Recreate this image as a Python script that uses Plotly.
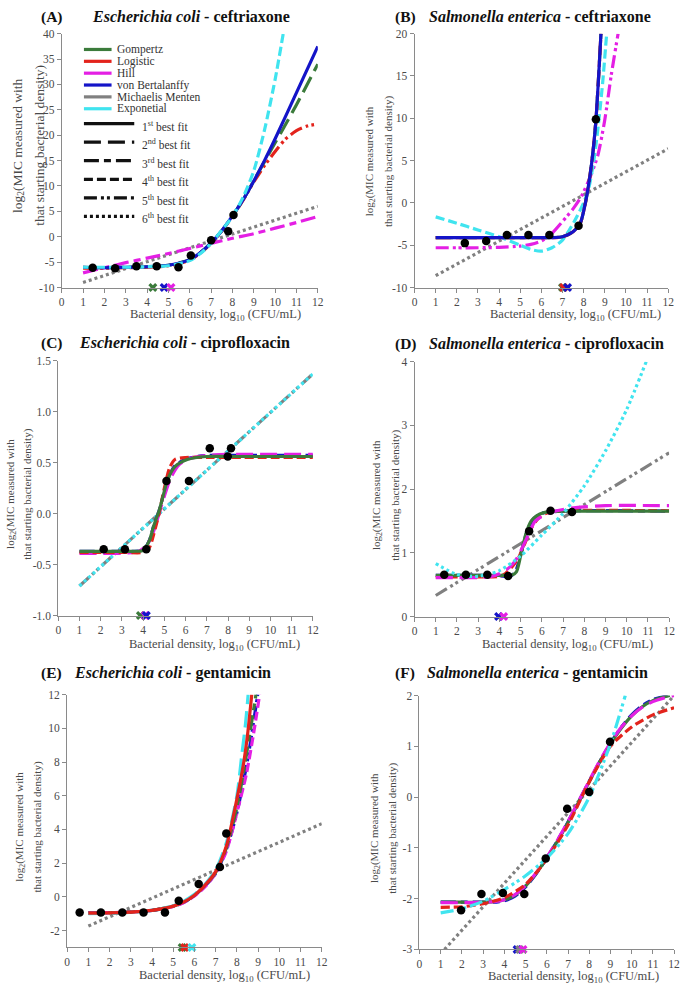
import plotly.graph_objects as go

W, H = 687, 991

MODELS = ["Gompertz", "Logistic", "Hill", "von Bertalanffy", "Michaelis Menten", "Exponetial"]
X_TICKS = list(range(13))

# ---------------- (A) E. coli - ceftriaxone ----------------
A_pts_x = [1.45, 2.5, 3.5, 4.45, 5.47, 6.05, 7.0, 7.8, 8.05]
A_pts_y = [-6.1, -6.2, -5.8, -5.8, -6.0, -3.7, -0.7, 1.1, 4.3]
A_vb_x = [1, 2, 3, 4, 5, 6, 6.5, 7, 7.5, 8, 8.5, 9, 9.5, 10, 11, 12]
A_vb_y = [-6.0, -6.1, -6.0, -5.9, -5.6, -4.5, -3.1, -1.2, 1.2, 4.1, 7.3, 11.0, 15.0, 19.3, 28.4, 37.5]
A_gom_x = [1, 2, 3, 4, 5, 6, 6.5, 7, 7.5, 8, 8.5, 9, 9.5, 10, 10.5, 11, 12]
A_gom_y = [-6.0, -6.1, -6.0, -5.9, -5.6, -4.5, -3.1, -1.2, 1.2, 4.1, 7.3, 11.0, 14.8, 18.5, 22.2, 26.0, 34.0]
A_log_x = [1, 2, 3, 4, 5, 6, 6.5, 7, 7.5, 8, 8.5, 9, 9.5, 10, 10.5, 11, 11.5, 12]
A_log_y = [-6.2, -6.2, -6.1, -6.0, -5.7, -4.6, -3.2, -1.3, 1.1, 4.0, 7.2, 10.8, 14.0, 16.8, 19.3, 20.9, 21.8, 22.2]
A_hill_x = [1, 2, 3, 4, 5, 6, 7, 8, 9, 10, 11, 12]
A_hill_y = [-7.1, -6.1, -5.1, -4.2, -3.3, -2.3, -1.3, -0.3, 0.6, 1.7, 2.8, 4.0]
A_mm_x = [1, 12]
A_mm_y = [-9.0, 6.0]
A_exp_x = [1, 2, 3, 4, 5, 6, 6.5, 7, 7.5, 8, 8.5, 9, 9.5, 10, 10.4]
A_exp_y = [-6.0, -6.0, -6.0, -5.9, -5.7, -4.7, -3.3, -1.3, 1.3, 4.0, 7.8, 13.0, 21.0, 31.0, 40.5]
A_rank = {"von Bertalanffy": 1, "Gompertz": 2, "Hill": 3, "Exponetial": 4, "Logistic": 5, "Michaelis Menten": 6}
A_thr_models = ["Gompertz", "von Bertalanffy", "Hill"]
A_thr_x = [4.27, 4.8, 5.12]
A_yticks = [-10, -5, 0, 5, 10, 15, 20, 25, 30, 35, 40]

# ---------------- (B) S. enterica - ceftriaxone ----------------
B_pts_x = [2.38, 3.39, 4.37, 5.39, 6.38, 7.76, 8.58]
B_pts_y = [-4.75, -4.5, -3.8, -3.8, -3.8, -2.7, 9.9]
B_vb_x = [1, 2, 3, 4, 5, 6, 6.5, 7, 7.5, 7.84, 8.1, 8.31, 8.45, 8.58, 8.7, 8.82]
B_vb_y = [-4.1, -4.1, -4.1, -4.1, -4.1, -4.1, -4.1, -4.0, -3.4, -2.4, 0.2, 3.4, 6.2, 9.7, 14.5, 20]
B_gom_x = [1, 2, 3, 4, 5, 6, 6.5, 7, 7.5, 7.84, 8.1, 8.31, 8.45, 8.58, 8.7, 8.82]
B_gom_y = [-4.1, -4.1, -4.1, -4.1, -4.1, -4.1, -4.1, -4.0, -3.4, -2.4, 0.2, 3.4, 6.2, 9.7, 14.5, 20]
B_log_x = [1, 2, 3, 4, 5, 6, 6.5, 7, 7.5, 7.84, 8.1, 8.31, 8.45, 8.58, 8.7, 8.82]
B_log_y = [-4.1, -4.1, -4.1, -4.1, -4.1, -4.1, -4.1, -4.0, -3.4, -2.4, 0.2, 3.4, 6.2, 9.7, 14.5, 20]
B_hill_x = [1, 2, 3, 4, 5, 5.5, 6, 6.5, 7, 7.5, 7.9, 8.3, 8.67, 9.0, 9.3, 9.63]
B_hill_y = [-5.3, -5.3, -5.3, -5.25, -5.1, -4.9, -4.5, -3.6, -2.2, -0.7, 0.8, 3.0, 5.6, 9.8, 15.0, 20]
B_mm_x = [1, 12]
B_mm_y = [-8.6, 6.4]
B_exp_x = [1, 2, 3, 4, 5, 5.5, 6, 6.5, 7, 7.6, 8.0, 8.23, 8.5, 8.7, 8.9, 9.09]
B_exp_y = [-1.65, -2.4, -3.2, -4.0, -5.0, -5.5, -5.7, -5.3, -4.4, -2.0, 0.0, 1.6, 5.3, 9.3, 14.2, 20]
B_rank = {"von Bertalanffy": 1, "Gompertz": 2, "Logistic": 3, "Exponetial": 4, "Hill": 5, "Michaelis Menten": 6}
B_thr_models = ["Gompertz", "Logistic", "von Bertalanffy"]
B_thr_x = [7.0, 7.05, 7.24]
B_yticks = [-10, -5, 0, 5, 10, 15, 20]

# ---------------- (C) E. coli - ciprofloxacin ----------------
C_pts_x = [2.14, 3.14, 4.15, 5.1, 6.16, 7.14, 7.99, 8.14]
C_pts_y = [-0.35, -0.35, -0.35, 0.32, 0.32, 0.64, 0.56, 0.64]
C_gom_x = [1, 2, 3, 3.5, 4, 4.3, 4.5, 4.77, 5.0, 5.15, 5.5, 6.08, 7, 8, 10, 12]
C_gom_y = [-0.37, -0.37, -0.37, -0.37, -0.36, -0.26, -0.12, 0.04, 0.22, 0.33, 0.46, 0.53, 0.56, 0.56, 0.56, 0.56]
C_vb_x = [1, 2, 3, 3.5, 4, 4.3, 4.5, 4.77, 5.0, 5.15, 5.5, 6.08, 7, 8, 10, 12]
C_vb_y = [-0.37, -0.37, -0.37, -0.37, -0.36, -0.26, -0.12, 0.04, 0.22, 0.33, 0.47, 0.54, 0.57, 0.57, 0.57, 0.57]
C_log_x = [1, 2, 3, 4, 4.3, 4.5, 4.75, 5.0, 5.25, 5.5, 6, 7, 12]
C_log_y = [-0.38, -0.38, -0.38, -0.38, -0.33, -0.2, 0.0, 0.25, 0.45, 0.53, 0.55, 0.55, 0.55]
C_hill_x = [1, 2, 3, 3.8, 4.2, 4.5, 4.75, 5.0, 5.3, 5.7, 6.2, 7, 8, 12]
C_hill_y = [-0.39, -0.39, -0.39, -0.37, -0.3, -0.17, 0.0, 0.17, 0.35, 0.48, 0.54, 0.57, 0.58, 0.58]
C_mm_x = [1, 12]
C_mm_y = [-0.71, 1.37]
C_exp_x = [1, 12]
C_exp_y = [-0.71, 1.37]
C_rank = {"Gompertz": 1, "Hill": 2, "von Bertalanffy": 3, "Logistic": 4, "Michaelis Menten": 5, "Exponetial": 6}
C_thr_models = ["Gompertz", "Hill", "von Bertalanffy"]
C_thr_x = [3.87, 4.1, 4.15]
C_yticks = [-1.0, -0.5, 0.0, 0.5, 1.0, 1.5]

# ---------------- (D) S. enterica - ciprofloxacin ----------------
D_pts_x = [1.4, 2.42, 3.43, 4.41, 5.4, 6.41, 7.42]
D_pts_y = [0.656, 0.656, 0.656, 0.636, 1.34, 1.66, 1.64]
D_gom_x = [1, 2, 3, 4, 4.6, 4.8, 5.0, 5.26, 5.5, 5.75, 6.1, 6.5, 7, 12]
D_gom_y = [0.645, 0.645, 0.645, 0.645, 0.65, 0.7, 0.95, 1.31, 1.5, 1.58, 1.63, 1.65, 1.655, 1.655]
D_vb_x = [1, 2, 3, 4, 4.4, 4.6, 4.8, 5.0, 5.3, 5.6, 6, 7, 12]
D_vb_y = [0.645, 0.645, 0.645, 0.64, 0.63, 0.65, 0.74, 0.97, 1.33, 1.53, 1.62, 1.655, 1.655]
D_log_x = [1, 2, 3, 4, 4.3, 4.6, 4.9, 5.2, 5.5, 5.8, 6.2, 6.8, 12]
D_log_y = [0.62, 0.62, 0.62, 0.63, 0.68, 0.78, 0.92, 1.15, 1.38, 1.53, 1.62, 1.655, 1.66]
D_hill_x = [1, 2, 3, 3.5, 4.0, 4.5, 4.8, 5.25, 5.7, 6.3, 7, 7.6, 9, 12]
D_hill_y = [0.61, 0.61, 0.61, 0.62, 0.67, 0.78, 0.9, 1.2, 1.5, 1.62, 1.68, 1.71, 1.74, 1.74]
D_mm_x = [1, 12]
D_mm_y = [0.33, 2.57]
D_exp_x = [1, 2, 3, 4, 5, 6, 7, 8, 9, 10, 10.92]
D_exp_y = [0.83, 0.66, 0.63, 0.72, 0.95, 1.28, 1.62, 2.05, 2.6, 3.25, 4.0]
D_rank = {"Gompertz": 1, "Hill": 2, "von Bertalanffy": 3, "Logistic": 4, "Michaelis Menten": 5, "Exponetial": 6}
D_thr_models = ["von Bertalanffy", "Hill"]
D_thr_x = [3.96, 4.2]
D_yticks = [0, 1, 2, 3, 4]

# ---------------- (E) E. coli - gentamicin ----------------
E_pts_x = [0.59, 1.59, 2.6, 3.6, 4.61, 5.26, 6.2, 7.2, 7.5]
E_pts_y = [-0.92, -0.92, -0.92, -0.92, -0.92, -0.23, 0.76, 1.77, 3.76]
E_log_x = [1, 2, 3, 4, 5, 5.5, 6, 6.5, 7, 7.5, 7.9, 8.3, 8.5, 8.7]
E_log_y = [-0.96, -0.95, -0.9, -0.8, -0.55, -0.3, 0.1, 0.7, 1.5, 3.0, 5.2, 7.8, 9.6, 12]
E_exp_x = [1, 2, 3, 4, 5, 5.5, 6, 6.5, 7, 7.5, 8, 8.22, 8.4, 8.53]
E_exp_y = [-1.0, -0.98, -0.92, -0.8, -0.52, -0.25, 0.15, 0.75, 1.6, 3.2, 6.0, 8.3, 10.2, 12]
E_gom_x = [1, 2, 3, 4, 5, 5.5, 6, 6.5, 7, 7.5, 8, 8.3, 8.6, 8.9]
E_gom_y = [-0.96, -0.95, -0.9, -0.8, -0.55, -0.3, 0.1, 0.68, 1.45, 2.9, 5.3, 7.3, 9.6, 12]
E_vb_x = [1, 2, 3, 4, 5, 5.5, 6, 6.5, 7, 7.5, 8, 8.5, 8.98]
E_vb_y = [-0.95, -0.94, -0.9, -0.8, -0.56, -0.32, 0.08, 0.65, 1.4, 2.8, 5.0, 8.1, 12]
E_hill_x = [1, 2, 3, 4, 5, 5.5, 6, 6.5, 7, 7.5, 8.06, 8.45, 8.84, 9.07]
E_hill_y = [-0.93, -0.93, -0.9, -0.8, -0.57, -0.33, 0.05, 0.6, 1.4, 2.7, 5.3, 7.3, 10.1, 12]
E_mm_x = [1, 12]
E_mm_y = [-1.73, 4.34]
E_rank = {"Logistic": 1, "Exponetial": 2, "Gompertz": 3, "Hill": 4, "von Bertalanffy": 5, "Michaelis Menten": 6}
E_thr_models = ["Gompertz", "Logistic", "Exponetial"]
E_thr_x = [5.42, 5.54, 5.88]
E_yticks = [-2, 0, 2, 4, 6, 8, 10, 12]

# ---------------- (F) S. enterica - gentamicin ----------------
F_pts_x = [1.96, 2.92, 3.93, 4.94, 5.95, 6.96, 8.0, 8.98]
F_pts_y = [-2.23, -1.91, -1.89, -1.91, -1.21, -0.23, 0.10, 1.09]
F_gom_x = [1, 2, 3, 3.5, 4, 4.5, 5, 5.5, 6, 6.5, 7, 7.5, 8, 8.5, 9, 9.5, 10, 10.5, 11, 11.5, 11.8]
F_gom_y = [-2.07, -2.07, -2.07, -2.06, -2.02, -1.93, -1.75, -1.5, -1.2, -0.87, -0.5, -0.1, 0.3, 0.7, 1.05, 1.35, 1.6, 1.78, 1.9, 1.97, 2.0]
F_hill_x = [1, 2, 3, 3.5, 4, 4.5, 5, 5.5, 6, 6.5, 7, 7.5, 8, 8.5, 9, 9.5, 10, 10.5, 11, 11.5, 12]
F_hill_y = [-2.08, -2.08, -2.07, -2.06, -2.02, -1.92, -1.74, -1.49, -1.19, -0.85, -0.48, -0.08, 0.32, 0.72, 1.07, 1.37, 1.6, 1.77, 1.88, 1.95, 2.0]
F_vb_x = [1, 2, 3, 3.5, 4, 4.5, 5, 5.5, 6, 6.5, 7, 7.5, 8, 8.5, 9, 9.5, 10, 10.5, 11, 11.7]
F_vb_y = [-2.07, -2.07, -2.07, -2.07, -2.04, -1.95, -1.77, -1.51, -1.2, -0.86, -0.49, -0.09, 0.31, 0.7, 1.06, 1.37, 1.62, 1.8, 1.92, 2.0]
F_log_x = [1, 2, 3, 4, 5, 6, 7, 8, 9, 10, 11, 12]
F_log_y = [-2.17, -2.16, -2.1, -1.98, -1.72, -1.22, -0.55, 0.3, 1.0, 1.38, 1.62, 1.76]
F_exp_x = [1, 2, 3, 4, 5, 6, 7, 8, 9, 9.7]
F_exp_y = [-2.28, -2.2, -2.05, -1.82, -1.55, -1.2, -0.72, 0.0, 1.05, 2.0]
F_mm_x = [1.18, 12]
F_mm_y = [-3.0, 2.0]
F_rank = {"Gompertz": 1, "Hill": 2, "von Bertalanffy": 3, "Logistic": 4, "Exponetial": 5, "Michaelis Menten": 6}
F_thr_models = ["von Bertalanffy", "Michaelis Menten", "Hill"]
F_thr_x = [4.6, 4.72, 4.88]
F_yticks = [-3, -2, -1, 0, 1, 2]


# styles
COLORS = {"Gompertz": "#3b7b3b", "Logistic": "#e3231c", "Hill": "#e41fe4",
          "von Bertalanffy": "#1414c8", "Michaelis Menten": "#808080", "Exponetial": "#40e4ef"}
DASH = {1: "solid", 2: "17px,7px", 3: "15px,5px,7px,5px", 4: "9px,4px",
        5: "13px,4px,3px,3px,3px,4px", 6: "3px,3px"}
SERIF = "Times New Roman, Liberation Serif, DejaVu Serif, serif"
AXIS_C = "#8a8a8a"
TICK_C = "#4a4a4a"


def px(x):
    return x / W


def py(y):
    return 1 - y / H


# panel layout in pixels: left, right, top, bottom of plot area
# yl = (x of 1st line, x of 2nd line, vertical centre, font size) for the y title
panels = [
    dict(key="A", box=(59.5, 319, 28, 285), yr=(-10, 40), yt=A_yticks, fmt="{:g}",
         tag="(A)", sp="Escherichia coli", drug="ceftriaxone", tag_x=36, sp_x=88, ty=11,
         yl=(15, 37, 141, 13.5), xtx=215, xty=313,
         pts=(A_pts_x, A_pts_y), rank=A_rank, thr=(A_thr_models, A_thr_x),
         curves=[("Michaelis Menten", A_mm_x, A_mm_y), ("Hill", A_hill_x, A_hill_y),
                 ("Logistic", A_log_x, A_log_y), ("Gompertz", A_gom_x, A_gom_y),
                 ("von Bertalanffy", A_vb_x, A_vb_y), ("Exponetial", A_exp_x, A_exp_y)]),
    dict(key="B", box=(417, 674, 28, 285), yr=(-10, 20), yt=B_yticks, fmt="{:g}",
         tag="(B)", sp="Salmonella enterica", drug="ceftriaxone", tag_x=395, sp_x=430, ty=11,
         yl=(372, 390, 157, 11), xtx=580, xty=313,
         pts=(B_pts_x, B_pts_y), rank=B_rank, thr=(B_thr_models, B_thr_x),
         curves=[("Michaelis Menten", B_mm_x, B_mm_y), ("Hill", B_hill_x, B_hill_y),
                 ("Exponetial", B_exp_x, B_exp_y), ("Gompertz", B_gom_x, B_gom_y),
                 ("Logistic", B_log_x, B_log_y), ("von Bertalanffy", B_vb_x, B_vb_y)]),
    dict(key="C", box=(56, 314, 359, 617), yr=(-1, 1.5), yt=C_yticks, fmt="{:.1f}",
         tag="(C)", sp="Escherichia coli", drug="ciprofloxacin", tag_x=36, sp_x=75, ty=341,
         yl=(8, 24, 494, 11), xtx=214, xty=647,
         pts=(C_pts_x, C_pts_y), rank=C_rank, thr=(C_thr_models, C_thr_x),
         curves=[("Michaelis Menten", C_mm_x, C_mm_y), ("Exponetial", C_exp_x, C_exp_y),
                 ("von Bertalanffy", C_vb_x, C_vb_y), ("Hill", C_hill_x, C_hill_y),
                 ("Logistic", C_log_x, C_log_y), ("Gompertz", C_gom_x, C_gom_y)]),
    dict(key="D", box=(417, 675, 360, 618), yr=(0, 4), yt=D_yticks, fmt="{:g}",
         tag="(D)", sp="Salmonella enterica", drug="ciprofloxacin", tag_x=395, sp_x=430, ty=342,
         yl=(379, 397, 495, 11), xtx=572, xty=647,
         pts=(D_pts_x, D_pts_y), rank=D_rank, thr=(D_thr_models, D_thr_x),
         curves=[("Michaelis Menten", D_mm_x, D_mm_y), ("von Bertalanffy", D_vb_x, D_vb_y),
                 ("Logistic", D_log_x, D_log_y), ("Gompertz", D_gom_x, D_gom_y),
                 ("Hill", D_hill_x, D_hill_y), ("Exponetial", D_exp_x, D_exp_y)]),
    dict(key="E", box=(65, 323, 697, 953), yr=(-3, 12), yt=E_yticks, fmt="{:g}",
         tag="(E)", sp="Escherichia coli", drug="gentamicin", tag_x=36, sp_x=70, ty=675,
         yl=(17, 35, 831, 11), xtx=224, xty=982,
         pts=(E_pts_x, E_pts_y), rank=E_rank, thr=(E_thr_models, E_thr_x),
         curves=[("Michaelis Menten", E_mm_x, E_mm_y), ("von Bertalanffy", E_vb_x, E_vb_y),
                 ("Hill", E_hill_x, E_hill_y), ("Gompertz", E_gom_x, E_gom_y),
                 ("Exponetial", E_exp_x, E_exp_y), ("Logistic", E_log_x, E_log_y)]),
    dict(key="F", box=(422, 680, 698, 955), yr=(-3, 2), yt=F_yticks, fmt="{:g}",
         tag="(F)", sp="Salmonella enterica", drug="gentamicin", tag_x=395, sp_x=428, ty=675,
         yl=(377, 395, 832, 11), xtx=578, xty=983,
         pts=(F_pts_x, F_pts_y), rank=F_rank, thr=(F_thr_models, F_thr_x),
         curves=[("Michaelis Menten", F_mm_x, F_mm_y), ("von Bertalanffy", F_vb_x, F_vb_y),
                 ("Gompertz", F_gom_x, F_gom_y), ("Hill", F_hill_x, F_hill_y),
                 ("Logistic", F_log_x, F_log_y), ("Exponetial", F_exp_x, F_exp_y)]),
]

fig = go.Figure()
layout = dict(width=W, height=H, margin=dict(l=0, r=0, t=0, b=0),
              paper_bgcolor="white", plot_bgcolor="white", showlegend=False,
              font=dict(family=SERIF))
annotations = []
shapes = []

for i, p in enumerate(panels):
    sfx = "" if i == 0 else str(i + 1)
    xa, ya = "x" + sfx, "y" + sfx
    l, r, t, b = p["box"]
    tickfont = dict(family=SERIF, size=11.5, color=TICK_C)
    layout["xaxis" + sfx] = dict(
        domain=[px(l), px(r)], anchor=ya, range=[0, 12], tickvals=X_TICKS,
        ticktext=[str(v) for v in X_TICKS], showline=True, linecolor=AXIS_C, linewidth=1,
        ticks="outside", ticklen=4, tickcolor=AXIS_C, showgrid=False, zeroline=False,
        tickfont=tickfont, fixedrange=True)
    layout["yaxis" + sfx] = dict(
        domain=[py(b), py(t)], anchor=xa, range=list(p["yr"]), tickvals=p["yt"],
        ticktext=[p["fmt"].format(v) for v in p["yt"]], showline=True, linecolor=AXIS_C,
        linewidth=1, ticks="outside", ticklen=4, tickcolor=AXIS_C, showgrid=False,
        zeroline=False, tickfont=tickfont, fixedrange=True)

    for model, cx, cy in p["curves"]:
        fig.add_trace(go.Scatter(
            x=cx, y=cy, mode="lines", xaxis=xa, yaxis=ya, hoverinfo="skip",
            line=dict(color=COLORS[model], width=3.2, dash=DASH[p["rank"][model]],
                      shape="spline", smoothing=0.7)))

    fig.add_trace(go.Scatter(
        x=p["pts"][0], y=p["pts"][1], mode="markers", xaxis=xa, yaxis=ya,
        marker=dict(color="black", size=8.5), cliponaxis=False, hoverinfo="skip"))

    tm, tx = p["thr"]
    fig.add_trace(go.Scatter(
        x=tx, y=[p["yr"][0]] * len(tx), mode="markers", xaxis=xa, yaxis=ya,
        marker=dict(symbol="x", size=8, color=[COLORS[m] for m in tm], line=dict(width=0)),
        cliponaxis=False, hoverinfo="skip"))

    # panel title
    annotations.append(dict(x=px(p["tag_x"]), y=py(p["ty"]), xref="paper", yref="paper",
                            xanchor="left", yanchor="middle", showarrow=False,
                            text="<b>" + p["tag"] + "</b>",
                            font=dict(family=SERIF, size=15.5, color="#111")))
    annotations.append(dict(x=px(p["sp_x"]), y=py(p["ty"]), xref="paper", yref="paper",
                            xanchor="left", yanchor="middle", showarrow=False,
                            text="<b><i>" + p["sp"] + "</i> - " + p["drug"] + "</b>",
                            font=dict(family=SERIF, size=16, color="#111")))
    # axis titles
    annotations.append(dict(x=px(p["xtx"]), y=py(p["xty"]), xref="paper", yref="paper",
                            xanchor="center", yanchor="middle", showarrow=False,
                            text="Bacterial density, log<sub>10</sub> (CFU/mL)",
                            font=dict(family=SERIF, size=12.5, color=TICK_C)))
    x1, x2, yc, fs = p["yl"]
    for lx, txt in ((x1, "log<sub>2</sub>(MIC measured with"),
                    (x2, "that starting bacterial density)")):
        annotations.append(dict(x=px(lx), y=py(yc), xref="paper", yref="paper",
                                xanchor="center", yanchor="middle", showarrow=False,
                                textangle=-90, text=txt,
                                font=dict(family=SERIF, size=fs, color=TICK_C)))

# legend drawn inside panel A
for k, m in enumerate(MODELS):
    yy = 44 + 12 * k
    shapes.append(dict(type="line", xref="paper", yref="paper", x0=px(82), x1=px(110),
                       y0=py(yy), y1=py(yy), line=dict(color=COLORS[m], width=3.2)))
    annotations.append(dict(x=px(113), y=py(yy), xref="paper", yref="paper", xanchor="left",
                            yanchor="middle", showarrow=False, text=m,
                            font=dict(family=SERIF, size=11.5, color="#333")))
SUFFIX = ["st", "nd", "rd", "th", "th", "th"]
for k in range(6):
    yy = 119 + 18.8 * k
    shapes.append(dict(type="line", xref="paper", yref="paper", x0=px(82), x1=px(133),
                       y0=py(yy), y1=py(yy), line=dict(color="#111", width=3.2, dash=DASH[k + 1])))
    annotations.append(dict(x=px(139), y=py(yy + 2), xref="paper", yref="paper", xanchor="left",
                            yanchor="middle", showarrow=False,
                            text=f"{k + 1}<sup>{SUFFIX[k]}</sup> best fit",
                            font=dict(family=SERIF, size=11.5, color="#333")))

layout["annotations"] = annotations
layout["shapes"] = shapes
fig.update_layout(**layout)
for tr in fig.data:
    tr.showlegend = False

fig.write_html("out.html", config={"displayModeBar": False},
               post_script="document.body.style.margin='0px';")
